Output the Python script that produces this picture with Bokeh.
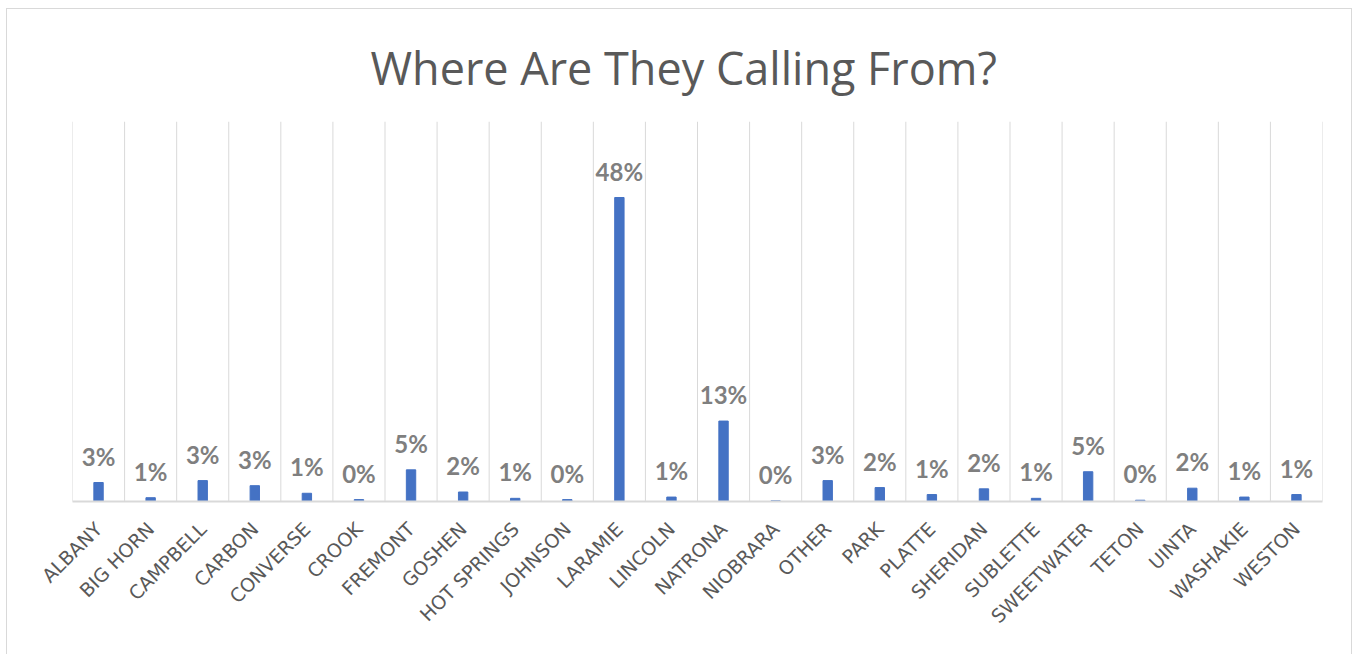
import math
from bokeh.plotting import figure
from bokeh.models import ColumnDataSource, LabelSet, Span, FactorRange, Range1d
from bokeh.core.properties import value
from bokeh.embed import file_html
from bokeh.resources import INLINE

title_text = "Where Are They Calling From?"
counties = ["ALBANY", "BIG HORN", "CAMPBELL", "CARBON", "CONVERSE", "CROOK",
            "FREMONT", "GOSHEN", "HOT SPRINGS", "JOHNSON", "LARAMIE", "LINCOLN",
            "NATRONA", "NIOBRARA", "OTHER", "PARK", "PLATTE", "SHERIDAN",
            "SUBLETTE", "SWEETWATER", "TETON", "UINTA", "WASHAKIE", "WESTON"]
shares = [0.030, 0.006, 0.033, 0.025, 0.013, 0.003, 0.050, 0.015, 0.005, 0.003,
          0.480, 0.007, 0.127, 0.001, 0.033, 0.022, 0.011, 0.020, 0.005, 0.047,
          0.002, 0.021, 0.007, 0.011]
share_labels = ["3%", "1%", "3%", "3%", "1%", "0%", "5%", "2%", "1%", "0%",
                "48%", "1%", "13%", "0%", "3%", "2%", "1%", "2%", "1%", "5%",
                "0%", "2%", "1%", "1%"]

GRID = "#d9d9d9"
TEXT = "#595959"

src = ColumnDataSource(dict(county=counties, share=shares, label=share_labels))

p = figure(width=1344, height=645, output_backend="svg", toolbar_location=None,
           x_range=FactorRange(*counties, range_padding=0),
           y_range=Range1d(0, 0.6),
           min_border_left=65, min_border_right=29, min_border_top=112,
           min_border_bottom=153, title=title_text)
p.margin = (9, 0, 0, 7)
p.styles = {"outline": "1px solid #d9d9d9"}
p.outline_line_color = None
p.background_fill_color = "white"
p.border_fill_color = "white"

p.title.align = "left"
p.title.offset = 298
p.title.text_font = "Open Sans"
p.title.text_font_style = "normal"
p.title.text_font_size = "45px"
p.title.text_color = TEXT
p.title.standoff = 48

for i in range(len(counties) + 1):
    p.add_layout(Span(location=i, dimension="height", line_color=GRID, line_width=1))

p.vbar(x="county", top="share", width=0.18, source=src, color="#4472c4")

labels = LabelSet(x="county", y="share", text="label", source=src,
                  y_offset=17, text_align="center", text_baseline="alphabetic",
                  text_font=value("Lato"), text_font_style="bold",
                  text_font_size="24px", text_color="#7f7f7f")
p.add_layout(labels)

p.yaxis.visible = False
p.ygrid.visible = False
p.xgrid.visible = False
p.xaxis.axis_line_color = GRID
p.xaxis.axis_line_width = 2
p.xaxis.major_tick_line_color = None
p.xaxis.minor_tick_line_color = None
p.xaxis.major_label_orientation = math.pi / 4
p.xaxis.major_label_standoff = 18
p.xaxis.major_label_text_font = "DejaVu Sans"
p.xaxis.major_label_text_font_size = "19px"
p.xaxis.major_label_text_color = TEXT

open("out.html", "w").write(file_html(p, INLINE))
